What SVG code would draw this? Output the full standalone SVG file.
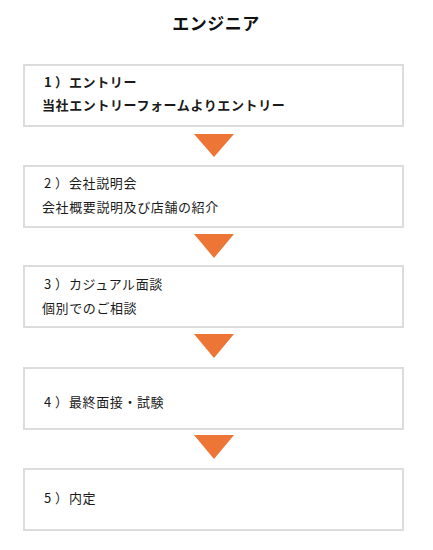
<svg xmlns="http://www.w3.org/2000/svg" width="433" height="550" viewBox="0 0 433 550">
<style>
.box{fill:#fff;stroke:#dcdcdc;stroke-width:2}
.t{font-family:"Noto Sans CJK JP","Noto Sans",sans-serif;font-size:13px;fill:#1a1a1a;letter-spacing:0.6px}
.b{font-weight:bold}
.title{font-family:"Noto Sans CJK JP","Noto Sans",sans-serif;font-size:17px;font-weight:bold;fill:#111;text-anchor:middle;letter-spacing:0.5px}
.arr{fill:#ed7535}
</style>
<rect width="433" height="550" fill="#fff"/>
<text class="title" x="216" y="30">エンジニア</text>
<g id="step1">
<rect class="box" x="24" y="65" width="379" height="61"/>
<text class="t b" x="44" y="87">1<tspan x="55">）</tspan><tspan x="69">エントリー</tspan></text>
<text class="t b" x="42" y="110">当社エントリーフォームよりエントリー</text>
</g>
<g id="step2">
<rect class="box" x="24" y="166" width="379" height="61"/>
<text class="t" x="44" y="188">2<tspan x="55">）</tspan><tspan x="69">会社説明会</tspan></text>
<text class="t" x="42" y="212">会社概要説明及び店舗の紹介</text>
</g>
<g id="step3">
<rect class="box" x="24" y="266" width="379" height="61"/>
<text class="t" x="44" y="289">3<tspan x="55">）</tspan><tspan x="69">カジュアル面談</tspan></text>
<text class="t" x="42" y="313">個別でのご相談</text>
</g>
<g id="step4">
<rect class="box" x="24" y="368" width="379" height="61"/>
<text class="t" x="44" y="407">4<tspan x="55">）</tspan><tspan x="69">最終面接・試験</tspan></text>
</g>
<g id="step5">
<rect class="box" x="24" y="469" width="379" height="61"/>
<text class="t" x="44" y="503">5<tspan x="55">）</tspan><tspan x="69">内定</tspan></text>
</g>
<g id="connectors">
<polygon class="arr" points="194,134 234,134 214,157"/>
<polygon class="arr" points="194,234 234,234 214,258"/>
<polygon class="arr" points="194,334 234,334 214,358"/>
<polygon class="arr" points="194,435 234,435 214,459"/>
</g>
</svg>
